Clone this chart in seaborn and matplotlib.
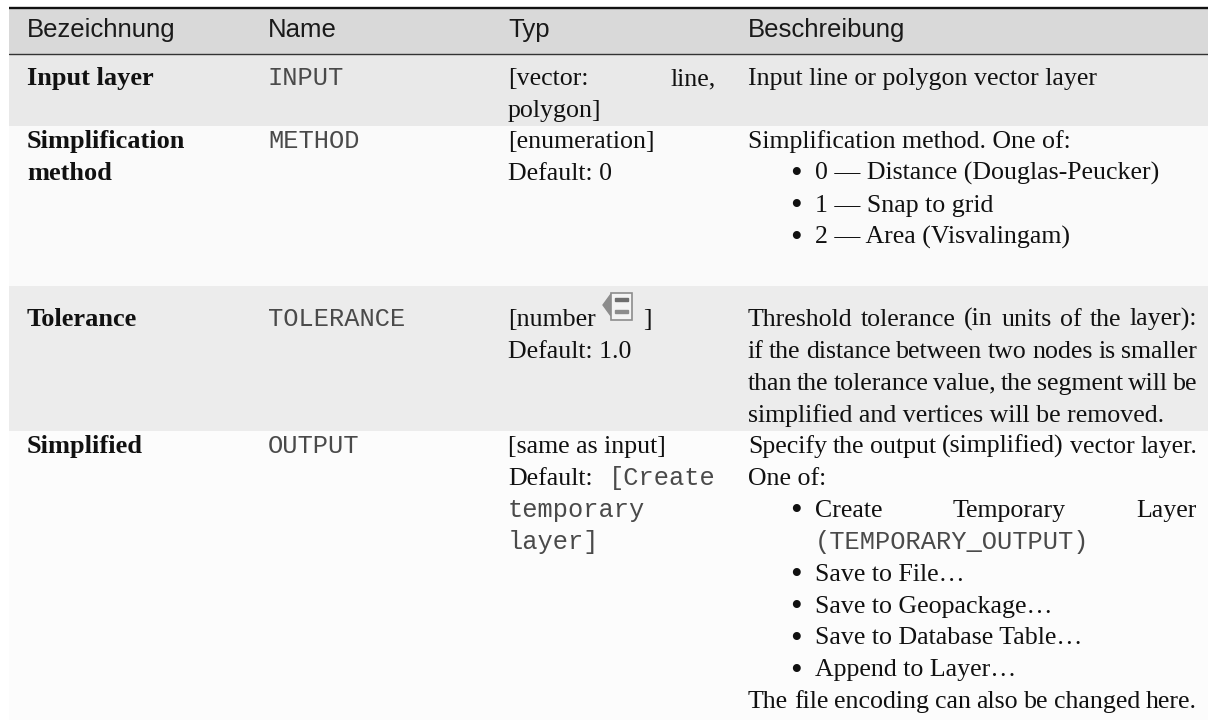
import numpy as np
import pandas as pd
import matplotlib
matplotlib.use("Agg")
import matplotlib.pyplot as plt
import matplotlib.transforms as mtransforms
from matplotlib.patches import Polygon, Rectangle
import seaborn as sns

# table content, `...` marks monospace runs
header = ["Bezeichnung", "Name", "Typ", "Beschreibung"]
labels = [["Input layer"], ["Simplification", "method"], ["Tolerance"], ["Simplified"]]
names = ["INPUT", "METHOD", "TOLERANCE", "OUTPUT"]
types = [
    [("[vector: line,", True), ("polygon]", False)],
    [("[enumeration]", False), ("Default: 0", False)],
    [("[number", False), ("Default: 1.0", False)],
    [("[same as input]", False), ("Default: `[Create`", True), ("`temporary`", False), ("`layer]`", False)],
]
# (text, justified, bullet)
descriptions = [
    [("Input line or polygon vector layer", False, False)],
    [("Simplification method. One of:", False, False),
     ("0 — Distance (Douglas-Peucker)", False, True),
     ("1 — Snap to grid", False, True),
     ("2 — Area (Visvalingam)", False, True)],
    [("Threshold tolerance (in units of the layer):", True, False),
     ("if the distance between two nodes is smaller", True, False),
     ("than the tolerance value, the segment will be", True, False),
     ("simplified and vertices will be removed.", False, False)],
    [("Specify the output (simplified) vector layer.", True, False),
     ("One of:", False, False),
     ("Create Temporary Layer", True, True),
     ("`(TEMPORARY_OUTPUT)`", False, None),
     ("Save to File…", False, True),
     ("Save to Geopackage…", False, True),
     ("Save to Database Table…", False, True),
     ("Append to Layer…", False, True),
     ("The file encoding can also be changed here.", True, False)],
]

# band heights in pixels and their grey levels
band_heights = [8, 46, 72, 160, 145, 289]
band_shades = [1.0, 0.851, 0.914, 0.98, 0.922, 0.988]

W, H = 1208, 720
FIRST_BASE = [85, 148, 326, 453]
LINE = 31.9
COLS = [27, 268, 508, 748]
TYP_RIGHT = 716
DESC_RIGHT = 1197
SERIF = "Liberation Serif"
SANS = "Liberation Sans"
MONO = "Liberation Mono"
SERIF_SIZE = 18.6
BOLD_SIZE = 19
SANS_SIZE = 18.5
MONO_SIZE = 18.3

sns.set_theme(style="white")
fig = plt.figure(figsize=(W / 100, H / 100), dpi=100)
ax = fig.add_axes([9 / W, 0, 1 - 9 / W, 1])

shades = pd.DataFrame(np.repeat(band_shades, band_heights).reshape(-1, 1))
sns.heatmap(shades, ax=ax, cmap="gray", vmin=0, vmax=1, cbar=False,
            xticklabels=False, yticklabels=False)
ax.axhline(8, color="#111111", lw=1.7)
ax.axhline(53.5, color="#333333", lw=1.0)

# pixel coordinates, origin top left
px = mtransforms.Affine2D().scale(1, -1).translate(0, H)
renderer = fig.canvas.get_renderer()


def style_of(is_mono, bold=False):
    if is_mono:
        return dict(family=MONO, fontsize=MONO_SIZE, color="#4a4a4a")
    return dict(family=SERIF, fontsize=BOLD_SIZE if bold else SERIF_SIZE, color="#111111",
                fontweight="bold" if bold else "normal")


def width(s, style):
    t = fig.text(0, 0, s, **style)
    w = t.get_window_extent(renderer).width
    t.remove()
    return w


def put(x, y, s, style):
    fig.text(x, y, s, transform=px, va="baseline", ha="left", **style)


def draw_line(x, y, line, right=None, bold=False):
    runs = line.split("`")
    words = []
    for i, run in enumerate(runs):
        for w in run.split():
            words.append((w, i % 2 == 1))
    if right is None:
        for w_i, run in enumerate(runs):
            if not run.strip():
                continue
            style = style_of(w_i % 2 == 1, bold)
            put(x, y, run.strip(), style)
            x += width(run.strip(), style) + width("a a", style) - width("aa", style)
        return
    widths = [width(w, style_of(m, bold)) for w, m in words]
    gap = (right - x - sum(widths)) / (len(words) - 1)
    for (w, m), wd in zip(words, widths):
        put(x, y, w, style_of(m, bold))
        x += wd + gap


for col, text in zip(COLS, header):
    fig.text(col, 37, text, transform=px, va="baseline", family=SANS,
             fontsize=SANS_SIZE, color="#1a1a1a")

bullet_style = dict(family=SERIF, fontsize=24, color="#111111")

for r in range(4):
    base = FIRST_BASE[r]
    for i, line in enumerate(labels[r]):
        draw_line(COLS[0], base + i * LINE, line, bold=True)
    put(COLS[1], base, names[r], style_of(True))
    for i, (line, just) in enumerate(types[r]):
        draw_line(COLS[2], base + i * LINE, line, TYP_RIGHT if just else None)
    for i, (line, just, bullet) in enumerate(descriptions[r]):
        y = base + i * LINE
        x = COLS[3] if bullet is False else 815
        if bullet:
            put(790, y + 3.5, "•", bullet_style)
        draw_line(x, y, line, DESC_RIGHT if just else None)

# the "data defined" icon and closing bracket in the Tolerance row
icon_parts = [
    Polygon([(603, 305), (611, 294), (611, 316)], closed=True, color="#8c8c8c"),
    Rectangle((611, 293), 21, 27, fc="#f4f4f4", ec="#8c8c8c", lw=1.2),
    Rectangle((615, 298), 13, 3, color="#6e6e6e"),
    Rectangle((615, 310), 13, 3, color="#8c8c8c"),
]
for part in icon_parts:
    part.set_transform(px)
    fig.add_artist(part)
put(643, FIRST_BASE[2], "]", style_of(False))

fig.savefig("out.png", dpi=100)
